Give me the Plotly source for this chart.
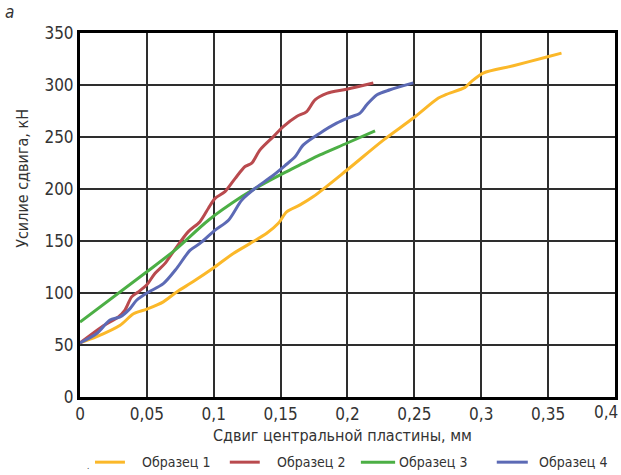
import plotly.graph_objects as go

# Shear test curves: displacement of the central plate (mm) vs shear force (kN)
x1 = [0.0, 0.0125, 0.03, 0.04, 0.05, 0.0623, 0.0723, 0.0847, 0.0997, 0.1146, 0.127,
      0.1396, 0.1483, 0.1545, 0.1645, 0.1745, 0.1994, 0.2268, 0.249, 0.268, 0.274,
      0.2879, 0.2928, 0.3015, 0.324, 0.349, 0.360]
y1 = [52, 58, 69, 80, 84.5, 91.5, 101, 111, 124, 138, 147.5,
      157.4, 167, 178, 184.7, 192.7, 218, 247, 268, 287.5, 291,
      297.7, 303.5, 311.5, 318.5, 327, 330.7]

x2 = [0.0, 0.0162, 0.0287, 0.0336, 0.0386, 0.0436, 0.0498, 0.056, 0.0636, 0.071,
      0.081, 0.0897, 0.096, 0.101, 0.1084, 0.1159, 0.1234, 0.1284, 0.1346, 0.1446,
      0.152, 0.162, 0.1695, 0.1757, 0.1845, 0.1994, 0.2193]
y2 = [52, 67.4, 77, 83.5, 96.3, 101, 107.6, 118.8, 128.5, 142,
      159, 168.6, 181.5, 191, 197.5, 210, 221.6, 224.8, 237.6, 250.4,
      260, 269.7, 274.5, 285.8, 292, 296, 302]

x3 = [0.0, 0.05, 0.071, 0.096, 0.121, 0.1333, 0.1545, 0.167, 0.1794, 0.1994, 0.2206]
y3 = [72, 120.4, 141.3, 170, 192.7, 202.3, 216.7, 224.8, 232.8, 244, 256]

x4 = [0.0, 0.0125, 0.0224, 0.03, 0.0374, 0.0423, 0.05, 0.0623, 0.0723, 0.0822,
      0.0897, 0.101, 0.111, 0.121, 0.131, 0.1433, 0.1533, 0.1608, 0.167, 0.1794,
      0.1919, 0.2019, 0.2094, 0.2144, 0.2218, 0.2318, 0.2492]
y4 = [52, 61, 74, 77, 85, 93, 100, 109, 123.7, 141,
      147.7, 160.5, 170, 189.5, 200.7, 212, 222.5, 231, 242.4, 253.7,
      263.3, 269, 273, 281, 290.5, 295.4, 302]

names = ["Образец 1", "Образец 2", "Образец 3", "Образец 4"]
colors = ["#FBB829", "#B94A4E", "#4CAF45", "#5C6AB5"]

x_ticks = [0, 0.05, 0.1, 0.15, 0.2, 0.25, 0.3, 0.35, 0.4]
x_tick_text = ["0", "0,05", "0,1", "0,15", "0,2", "0,25", "0,3", "0,35", "0,4"]
y_ticks = [0, 50, 100, 150, 200, 250, 300, 350]

FONT = "DejaVu Sans Condensed, Liberation Sans Narrow, sans-serif"
TEXT_COLOR = "#333333"
TICK_SIZE = 17

fig = go.Figure()
for xs, ys, nm, c in zip([x1, x2, x3, x4], [y1, y2, y3, y4], names, colors):
    fig.add_trace(go.Scatter(
        x=xs, y=ys, name=nm, mode="lines", showlegend=False,
        line=dict(color=c, width=3, shape="spline", smoothing=0.8),
    ))

axis_common = dict(
    showgrid=True, gridcolor="#2e2e2e", gridwidth=2,
    showline=True, linecolor="black", linewidth=3, mirror=True,
    zeroline=False, ticks="", automargin=False,
    tickfont=dict(family=FONT, size=TICK_SIZE, color=TEXT_COLOR),
)

# The last x label sits at the right frame edge; it is drawn separately,
# right-aligned, so that it stays inside the page.
fig.update_xaxes(range=[0, 0.40001], tickvals=x_ticks,
                 ticktext=x_tick_text[:-1] + [""], **axis_common)
fig.update_yaxes(range=[0, 350.01], tickvals=y_ticks, **axis_common)

# Legend row under the axis title: a short line sample followed by the series name
legend_line_x = [(0.028, 0.084), (0.280, 0.336), (0.525, 0.589), (0.779, 0.837)]
legend_text_x = [0.112, 0.364, 0.593, 0.854]
legend_y = -0.179

shapes = []
annotations = []
for (xa, xb), xt, nm, c in zip(legend_line_x, legend_text_x, names, colors):
    shapes.append(dict(type="line", xref="paper", yref="paper",
                       x0=xa, x1=xb, y0=legend_y, y1=legend_y,
                       line=dict(color=c, width=3)))
    annotations.append(dict(text=nm, x=xt, y=legend_y, xref="paper", yref="paper",
                            xanchor="left", yanchor="middle", showarrow=False,
                            font=dict(family=FONT, size=14, color=TEXT_COLOR)))

annotations += [
    dict(text=x_tick_text[-1], x=x_ticks[-1], y=-0.042, xref="x", yref="paper",
         xanchor="right", yanchor="middle", xshift=5, showarrow=False,
         font=dict(family=FONT, size=TICK_SIZE, color=TEXT_COLOR)),
    dict(text="<i>а</i>", x=-0.131, y=1.058, xref="paper", yref="paper",
         xanchor="center", yanchor="middle", showarrow=False,
         font=dict(family=FONT, size=17, color=TEXT_COLOR)),
    dict(text="Усилие сдвига, кН", x=-0.108, y=0.6, xref="paper", yref="paper",
         textangle=-90, xanchor="center", yanchor="middle", showarrow=False,
         font=dict(family=FONT, size=16, color=TEXT_COLOR)),
    dict(text="Сдвиг центральной пластины, мм", x=0.49, y=-0.107,
         xref="paper", yref="paper", xanchor="center", yanchor="middle",
         showarrow=False, font=dict(family=FONT, size=16, color=TEXT_COLOR)),
    dict(text=".", x=0.015, y=-0.19, xref="paper", yref="paper",
         xanchor="center", yanchor="middle", showarrow=False,
         font=dict(family=FONT, size=8, color=TEXT_COLOR)),
]

fig.update_layout(
    width=621, height=475,
    margin=dict(l=80, r=6, t=33, b=78),
    paper_bgcolor="white", plot_bgcolor="white",
    font=dict(family=FONT, color=TEXT_COLOR),
    showlegend=False,
    shapes=shapes,
    annotations=annotations,
)

fig.write_html("out.html")
